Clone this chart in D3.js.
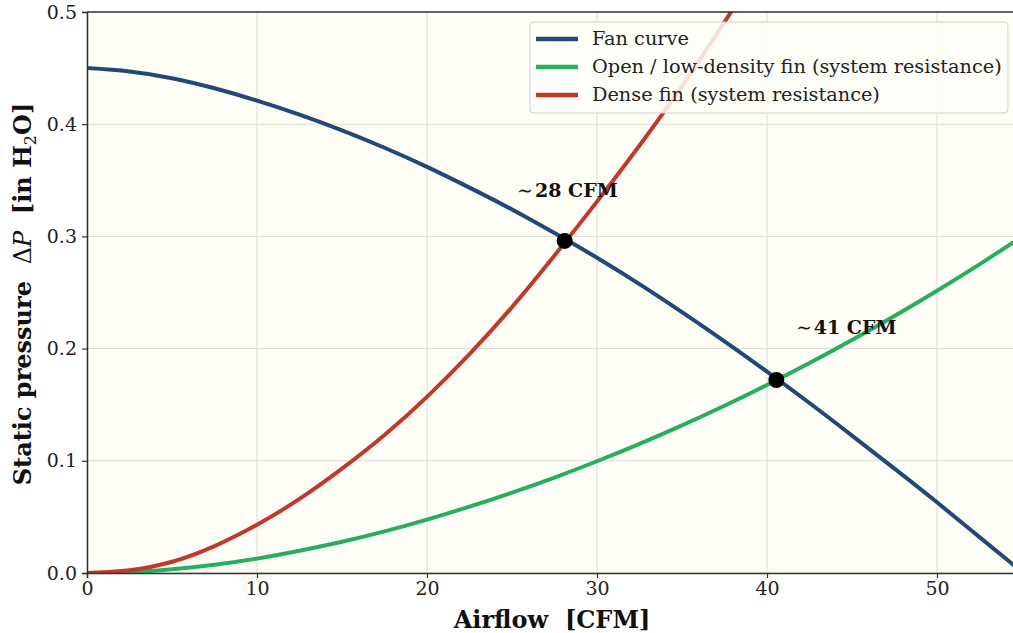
<!DOCTYPE html>
<html>
<head>
<meta charset="utf-8">
<script src="https://cdn.jsdelivr.net/npm/d3@7.9.0/dist/d3.min.js"></script>
<style>
  html, body { margin: 0; padding: 0; background: #fff; }
  svg { display: block; font-family: "DejaVu Serif", serif; }
  svg text { white-space: pre; }
</style>
</head>
<body>
<svg id="chart" width="1013" height="633"></svg>
<script>
// airflow samples [CFM]
var airflow = [0, 2.5, 5, 7.5, 10, 12.5, 15, 17.5, 20, 22.5, 25, 27.5, 30, 32.5, 35, 37.5, 40, 42.5, 45, 47.5, 50, 52.5, 55]
// static pressure [in H2O]
var fanCurve = [0.450, 0.447, 0.441, 0.432, 0.421, 0.4085, 0.3945, 0.379, 0.362, 0.3435, 0.324, 0.303, 0.281, 0.2575, 0.2325, 0.2065, 0.1795, 0.1515, 0.1225, 0.093, 0.063, 0.032, 0.001]
var openFin = [0, 0.0008, 0.0033, 0.0073, 0.0128, 0.0198, 0.0278, 0.0371, 0.0476, 0.0591, 0.0716, 0.0851, 0.0996, 0.1151, 0.1316, 0.1491, 0.1676, 0.1871, 0.2076, 0.2291, 0.2516, 0.2751, 0.2996]
var denseFin = [0, 0.0025, 0.010, 0.024, 0.043, 0.066, 0.093, 0.123, 0.157, 0.195, 0.237, 0.283, 0.331, 0.381, 0.434, 0.491, 0.551, 0.614, 0.68, 0.75, 0.82, 0.89, 0.96]

var seriesNames = ['Fan curve', 'Open / low-density fin (system resistance)', 'Dense fin (system resistance)']
var seriesColors = ['#1f4a78', '#27ae60', '#c0392b']

// operating points
var opFlow = [28.1, 40.55]
var opPressure = [0.296, 0.172]
var opLabels = ['28 CFM', '41 CFM']
var opLabelAt = [[25.3, 0.335], [41.7, 0.213]]

var xTicks = [0, 10, 20, 30, 40, 50]
var yTicks = [0.0, 0.1, 0.2, 0.3, 0.4, 0.5]

;(function () {
  var svg = d3.select('#chart')
  var mL = 87, mT = 12, mB = 573, mR = 1022

  var x = d3.scaleLinear().domain([0, 55]).range([mL, mR])
  var y = d3.scaleLinear().domain([0, 0.5]).range([mB, mT])

  svg.append('defs').append('clipPath').attr('id', 'plot')
    .append('rect').attr('x', mL).attr('y', mT).attr('width', mR - mL).attr('height', mB - mT)

  svg.append('rect')
    .attr('x', mL).attr('y', mT).attr('width', mR - mL).attr('height', mB - mT)
    .attr('fill', '#fefef6')

  // grid
  var grid = svg.append('g').attr('stroke', '#dcdcd6').attr('stroke-width', 1)
  grid.selectAll('.gx').data(xTicks).enter().append('line')
    .attr('x1', function (d) { return x(d) }).attr('x2', function (d) { return x(d) })
    .attr('y1', mT).attr('y2', mB)
  grid.selectAll('.gy').data(yTicks).enter().append('line')
    .attr('y1', function (d) { return y(d) }).attr('y2', function (d) { return y(d) })
    .attr('x1', mL).attr('x2', mR)

  // curves
  var series = [fanCurve, openFin, denseFin]
  var line = d3.line()
    .x(function (d) { return x(d[0]) })
    .y(function (d) { return y(d[1]) })
    .curve(d3.curveNatural)

  var curves = svg.append('g').attr('clip-path', 'url(#plot)')
  series.forEach(function (vals, i) {
    curves.append('path')
      .datum(airflow.map(function (q, j) { return [q, vals[j]] }))
      .attr('d', line)
      .attr('fill', 'none')
      .attr('stroke', seriesColors[i])
      .attr('stroke-width', 4)
  })

  // axes
  var xAxis = svg.append('g').attr('transform', 'translate(0,' + mB + ')')
    .call(d3.axisBottom(x).tickValues(xTicks).tickSize(5).tickPadding(4).tickFormat(d3.format('d')))
  var yAxis = svg.append('g').attr('transform', 'translate(' + mL + ',0)')
    .call(d3.axisLeft(y).tickValues(yTicks).tickSize(5).tickPadding(5).tickFormat(d3.format('.1f')))
  ;[xAxis, yAxis].forEach(function (a) {
    a.select('.domain').attr('stroke', '#333').attr('stroke-width', 1.5)
    a.selectAll('.tick line').attr('stroke', '#333').attr('stroke-width', 1.2)
    a.selectAll('.tick text').attr('fill', '#222').attr('font-family', 'DejaVu Serif').attr('font-size', 19)
  })
  svg.append('line').attr('x1', mL).attr('x2', mR).attr('y1', mT).attr('y2', mT)
    .attr('stroke', '#333').attr('stroke-width', 1.5)

  // operating points
  svg.selectAll('.op').data(opFlow).enter().append('circle')
    .attr('cx', function (d) { return x(d) })
    .attr('cy', function (d, i) { return y(opPressure[i]) })
    .attr('r', 8).attr('fill', '#000')

  opLabels.forEach(function (lab, i) {
    var t = svg.append('text')
      .attr('x', x(opLabelAt[i][0])).attr('y', y(opLabelAt[i][1]))
      .attr('font-size', 19).attr('fill', '#111')
    t.append('tspan').text('\u223C')
    t.append('tspan').attr('font-weight', 'bold').attr('dx', 2).text(lab)
  })

  // axis titles
  svg.append('text')
    .attr('x', 552).attr('y', 628)
    .attr('text-anchor', 'middle').attr('font-size', 24).attr('font-weight', 'bold').attr('fill', '#111')
    .text('Airflow  [CFM]')

  var yl = svg.append('text')
    .attr('transform', 'translate(31,294) rotate(-90)')
    .attr('text-anchor', 'middle').attr('font-size', 24).attr('fill', '#111')
  yl.append('tspan').attr('font-weight', 'bold').text('Static pressure  ')
  yl.append('tspan').text('\u0394')
  yl.append('tspan').attr('font-style', 'italic').text('P')
  yl.append('tspan').attr('font-weight', 'bold').text('  [in H')
  yl.append('tspan').attr('font-size', 16).attr('dy', 5).text('2')
  yl.append('tspan').attr('font-weight', 'bold').attr('dy', -5).text('O]')

  // legend
  var lg = svg.append('g').attr('transform', 'translate(530,22)')
  lg.append('rect').attr('width', 478).attr('height', 91).attr('rx', 4)
    .attr('fill', '#fefef8').attr('fill-opacity', 0.85).attr('stroke', '#cfcfcf').attr('stroke-width', 1)
  seriesNames.forEach(function (name, i) {
    var yy = 17 + i * 28
    lg.append('line').attr('x1', 6).attr('x2', 48).attr('y1', yy).attr('y2', yy)
      .attr('stroke', seriesColors[i]).attr('stroke-width', 4.5)
    lg.append('text').attr('x', 62).attr('y', yy + 6).attr('font-size', 19.3).attr('fill', '#222').text(name)
  })
})()
</script>
</body>
</html>
